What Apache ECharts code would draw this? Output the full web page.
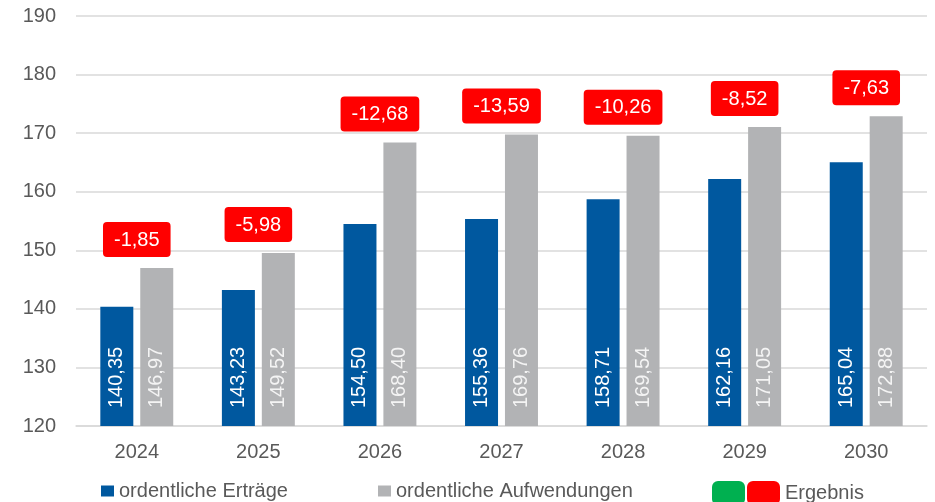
<!DOCTYPE html>
<html><head><meta charset="utf-8">
<script src="https://cdn.jsdelivr.net/npm/echarts@6/dist/echarts.min.js"></script>
<style>html,body{margin:0;padding:0;background:#fff}#c{width:935px;height:502px}</style>
</head><body><div id="c"></div>
<script>
const categories = ['2024','2025','2026','2027','2028','2029','2030'];
const ertraege = [140.35, 143.23, 154.50, 155.36, 158.71, 162.16, 165.04];
const aufwendungen = [146.97, 149.52, 168.40, 169.76, 169.54, 171.05, 172.88];
const ergebnis = [-1.85, -5.98, -12.68, -13.59, -10.26, -8.52, -7.63];
const yTicks = [120, 130, 140, 150, 160, 170, 180, 190];

const fmt = v => v.toFixed(2).replace('.', ',');
const FONT = '"Liberation Sans", Arial, sans-serif';
const chart = echarts.init(document.getElementById('c'), null, {renderer: 'canvas'});
const barLabel = (color) => ({
  show: true, position: 'insideBottom', rotate: 90, align: 'left', verticalAlign: 'middle',
  distance: 18, color: color, fontSize: 20, fontFamily: FONT,
  formatter: p => fmt(p.value)
});
const legendText = {color: '#595959', fontSize: 20, fontFamily: FONT};
chart.setOption({
  animation: false,
  textStyle: {fontFamily: FONT},
  grid: {left: 76, right: 8, top: 16, bottom: 76},
  xAxis: {
    type: 'category', data: categories,
    axisLine: {lineStyle: {color: '#d9d9d9', width: 1.5}},
    axisTick: {show: false},
    axisLabel: {color: '#595959', fontSize: 20, margin: 16, fontFamily: FONT}
  },
  yAxis: {
    type: 'value', min: yTicks[0], max: yTicks[yTicks.length - 1], interval: 10,
    axisLine: {show: false}, axisTick: {show: false},
    axisLabel: {color: '#595959', fontSize: 20, margin: 20, fontFamily: FONT},
    splitLine: {lineStyle: {color: '#d9d9d9', width: 1.5}}
  },
  legend: [
    {data: ['ordentliche Erträge'], left: 101, top: 481, padding: 0, itemWidth: 13, itemHeight: 11, icon: 'rect',
     textStyle: legendText},
    {data: ['ordentliche Aufwendungen'], left: 378, top: 481, padding: 0, itemWidth: 13, itemHeight: 11, icon: 'rect',
     textStyle: legendText},
    {data: ['pos', 'Ergebnis'], left: 712, top: 481, padding: 0, itemWidth: 33, itemHeight: 24, icon: 'roundRect', itemGap: 2,
     formatter: n => n === 'pos' ? '' : n,
     textStyle: legendText}
  ],
  series: [
    {name: 'ordentliche Erträge', type: 'bar', data: ertraege, barWidth: 33, barGap: '21%',
     itemStyle: {color: '#00589F'}, label: barLabel('#ffffff')},
    {name: 'ordentliche Aufwendungen', type: 'bar', data: aufwendungen, barWidth: 33,
     itemStyle: {color: '#B2B3B5'}, label: barLabel('#f4f4f4')},
    {name: 'pos', type: 'scatter', data: [], itemStyle: {color: '#00B050', opacity: 1}},
    {name: 'Ergebnis', type: 'scatter', symbolSize: 0, itemStyle: {color: '#FF0000', opacity: 1},
     data: aufwendungen.map((v, i) => [categories[i], v]),
     label: {show: true, position: 'top', distance: 11, color: '#fff', fontSize: 20, fontFamily: FONT,
       backgroundColor: '#FF0000', borderRadius: 4, padding: [8, 11, 7, 11], lineHeight: 20,
       formatter: p => fmt(ergebnis[p.dataIndex])}}
  ]
});
</script></body></html>
